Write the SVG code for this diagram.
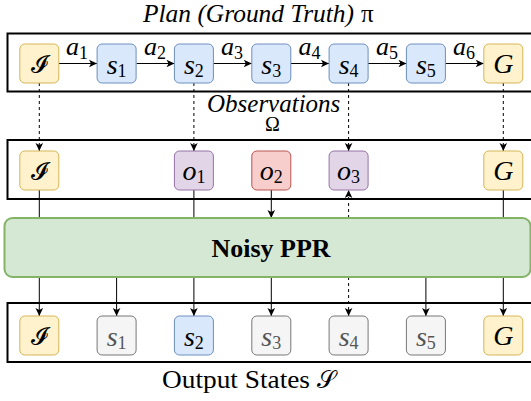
<svg xmlns="http://www.w3.org/2000/svg" width="531" height="401" viewBox="0 0 531 401">
  <defs>
    <marker id="arrow" markerUnits="userSpaceOnUse" markerWidth="10" markerHeight="10" viewBox="0 0 10 10" refX="9" refY="5" orient="auto">
      <path d="M1,1.2 L9,5 L1,8.8 L3,5 Z" fill="#000"/>
    </marker>
  </defs>
  <style>
    .frame { fill: none; stroke: #000; stroke-width: 2; }
    .node { stroke-width: 1; }
    .yellow { fill: #fff2cc; stroke: #d6b656; }
    .blue { fill: #dae8fc; stroke: #6c8ebf; }
    .purple { fill: #e1d5e7; stroke: #9673a6; }
    .red { fill: #f8cecc; stroke: #b85450; }
    .gray { fill: #f5f5f5; stroke: #777; }
    .math { font-family: "Liberation Serif", "DejaVu Serif", serif; font-style: italic; font-size: 28px; fill: #000; }
    .math.dim { fill: #555; }
    .script { font-family: "DejaVu Sans", "Noto Sans", sans-serif; font-style: normal; font-size: 24px; fill: #000; }
    .sub { font-size: 18px; font-style: normal; }
    .lbl { font-family: "Liberation Serif", "DejaVu Serif", serif; font-style: italic; font-size: 26px; fill: #000; }
    .title { font-family: "Liberation Serif", "DejaVu Serif", serif; font-size: 25px; fill: #000; }
    .omega { font-family: "Liberation Serif", "DejaVu Serif", serif; font-size: 20px; fill: #000; }
    .it { font-style: italic; }
    .edge { fill: none; stroke: #000; stroke-width: 1; }
    .dash { stroke-dasharray: 3 3; }
    .ppr { fill: #d5e8d4; stroke: #82b366; stroke-width: 2; }
  </style>

  <!-- row frames -->
  <rect class="frame" x="7.5" y="33.5" width="540" height="58"/>
  <rect class="frame" x="7.5" y="140" width="540" height="59"/>
  <rect class="frame" x="7.5" y="303" width="540" height="59"/>

  <!-- captions -->
  <text class="title it" x="143" y="22" textLength="211" lengthAdjust="spacingAndGlyphs">Plan (Ground Truth)</text>
  <text class="title" x="361" y="22" font-size="24">π</text>
  <text class="title it" x="207" y="112">Observations</text>
  <text class="omega" x="272.5" y="131" text-anchor="middle">Ω</text>
  <text class="title" x="162" y="388" textLength="148" lengthAdjust="spacingAndGlyphs">Output States</text>
  <text class="script" x="317" y="388" font-size="26">𝒮</text>

  <!-- connectors -->
  <g id="connectors">
    <!-- plan transitions -->
    <line class="edge" x1="59" y1="63.5" x2="97" y2="63.5" marker-end="url(#arrow)"/>
    <line class="edge" x1="136.5" y1="63.5" x2="174.5" y2="63.5" marker-end="url(#arrow)"/>
    <line class="edge" x1="213.5" y1="63.5" x2="251.8" y2="63.5" marker-end="url(#arrow)"/>
    <line class="edge" x1="290.8" y1="63.5" x2="329" y2="63.5" marker-end="url(#arrow)"/>
    <line class="edge" x1="368" y1="63.5" x2="406.5" y2="63.5" marker-end="url(#arrow)"/>
    <line class="edge" x1="445.5" y1="63.5" x2="483.8" y2="63.5" marker-end="url(#arrow)"/>
    <text class="lbl" x="77" y="55" text-anchor="middle">a<tspan class="sub" dy="4">1</tspan></text>
    <text class="lbl" x="155" y="55" text-anchor="middle">a<tspan class="sub" dy="4">2</tspan></text>
    <text class="lbl" x="232" y="55" text-anchor="middle">a<tspan class="sub" dy="4">3</tspan></text>
    <text class="lbl" x="309.5" y="55" text-anchor="middle">a<tspan class="sub" dy="4">4</tspan></text>
    <text class="lbl" x="387" y="55" text-anchor="middle">a<tspan class="sub" dy="4">5</tspan></text>
    <text class="lbl" x="464" y="55" text-anchor="middle">a<tspan class="sub" dy="4">6</tspan></text>

    <!-- plan to observations -->
    <line class="edge dash" x1="39.3" y1="83" x2="39.3" y2="151" marker-end="url(#arrow)"/>
    <line class="edge dash" x1="193.9" y1="83" x2="193.9" y2="151" marker-end="url(#arrow)"/>
    <line class="edge dash" x1="348.6" y1="83" x2="348.6" y2="151" marker-end="url(#arrow)"/>
    <line class="edge dash" x1="503.3" y1="83" x2="503.3" y2="151" marker-end="url(#arrow)"/>

    <!-- observations to PPR -->
    <line class="edge" x1="39.3" y1="190" x2="39.3" y2="218"/>
    <line class="edge" x1="193.9" y1="190" x2="193.9" y2="218"/>
    <line class="edge" x1="271.3" y1="190" x2="271.3" y2="218" marker-end="url(#arrow)"/>
    <line class="edge dash" x1="348.6" y1="218" x2="348.6" y2="190" marker-end="url(#arrow)"/>
    <line class="edge" x1="503.3" y1="190" x2="503.3" y2="218"/>

    <!-- PPR to output states -->
    <line class="edge" x1="39.3" y1="277" x2="39.3" y2="316" marker-end="url(#arrow)"/>
    <line class="edge" x1="116.6" y1="277" x2="116.6" y2="316" marker-end="url(#arrow)"/>
    <line class="edge" x1="193.9" y1="277" x2="193.9" y2="316" marker-end="url(#arrow)"/>
    <line class="edge" x1="271.3" y1="277" x2="271.3" y2="316" marker-end="url(#arrow)"/>
    <line class="edge dash" x1="348.6" y1="277" x2="348.6" y2="316" marker-end="url(#arrow)"/>
    <line class="edge" x1="425.9" y1="277" x2="425.9" y2="316" marker-end="url(#arrow)"/>
    <line class="edge" x1="503.3" y1="277" x2="503.3" y2="316" marker-end="url(#arrow)"/>
  </g>

  <!-- plan row -->
  <g id="plan-I"><rect class="node yellow" x="19.8" y="44" width="39" height="39" rx="5"/><text class="script" x="39.3" y="72" text-anchor="middle">𝓘</text></g>
  <g id="plan-s1"><rect class="node blue" x="97.1" y="44" width="39" height="39" rx="5"/><text class="math" x="116.6" y="74" text-anchor="middle">s<tspan class="sub" dy="3">1</tspan></text></g>
  <g id="plan-s2"><rect class="node blue" x="174.4" y="44" width="39" height="39" rx="5"/><text class="math" x="193.9" y="74" text-anchor="middle">s<tspan class="sub" dy="3">2</tspan></text></g>
  <g id="plan-s3"><rect class="node blue" x="251.8" y="44" width="39" height="39" rx="5"/><text class="math" x="271.3" y="74" text-anchor="middle">s<tspan class="sub" dy="3">3</tspan></text></g>
  <g id="plan-s4"><rect class="node blue" x="329.1" y="44" width="39" height="39" rx="5"/><text class="math" x="348.6" y="74" text-anchor="middle">s<tspan class="sub" dy="3">4</tspan></text></g>
  <g id="plan-s5"><rect class="node blue" x="406.4" y="44" width="39" height="39" rx="5"/><text class="math" x="425.9" y="74" text-anchor="middle">s<tspan class="sub" dy="3">5</tspan></text></g>
  <g id="plan-G"><rect class="node yellow" x="483.8" y="44" width="39" height="39" rx="5"/><text class="math" x="503.3" y="73" text-anchor="middle">G</text></g>

  <!-- observation row -->
  <g id="obs-I"><rect class="node yellow" x="19.8" y="151" width="39" height="39" rx="5"/><text class="script" x="39.3" y="179" text-anchor="middle">𝓘</text></g>
  <g id="obs-o1"><rect class="node purple" x="174.4" y="151" width="39" height="39" rx="5"/><text class="math" x="193.9" y="180" text-anchor="middle">o<tspan class="sub" dy="3">1</tspan></text></g>
  <g id="obs-o2"><rect class="node red" x="251.8" y="151" width="39" height="39" rx="5"/><text class="math" x="271.3" y="180" text-anchor="middle">o<tspan class="sub" dy="3">2</tspan></text></g>
  <g id="obs-o3"><rect class="node purple" x="329.1" y="151" width="39" height="39" rx="5"/><text class="math" x="348.6" y="180" text-anchor="middle">o<tspan class="sub" dy="3">3</tspan></text></g>
  <g id="obs-G"><rect class="node yellow" x="483.8" y="151" width="39" height="39" rx="5"/><text class="math" x="503.3" y="180" text-anchor="middle">G</text></g>

  <!-- model -->
  <g id="noisy-ppr">
    <rect class="ppr" x="4.5" y="218" width="526" height="59" rx="8"/>
    <text class="title" x="271" y="257" text-anchor="middle" font-weight="bold" textLength="119" lengthAdjust="spacingAndGlyphs">Noisy PPR</text>
  </g>

  <!-- output row -->
  <g id="out-I"><rect class="node yellow" x="19.8" y="316" width="39" height="39" rx="5"/><text class="script" x="39.3" y="344" text-anchor="middle">𝓘</text></g>
  <g id="out-s1"><rect class="node gray" x="97.1" y="316" width="39" height="39" rx="5"/><text class="math dim" x="116.6" y="346" text-anchor="middle">s<tspan class="sub" dy="3">1</tspan></text></g>
  <g id="out-s2"><rect class="node blue" x="174.4" y="316" width="39" height="39" rx="5"/><text class="math" x="193.9" y="346" text-anchor="middle">s<tspan class="sub" dy="3">2</tspan></text></g>
  <g id="out-s3"><rect class="node gray" x="251.8" y="316" width="39" height="39" rx="5"/><text class="math dim" x="271.3" y="346" text-anchor="middle">s<tspan class="sub" dy="3">3</tspan></text></g>
  <g id="out-s4"><rect class="node gray" x="329.1" y="316" width="39" height="39" rx="5"/><text class="math dim" x="348.6" y="346" text-anchor="middle">s<tspan class="sub" dy="3">4</tspan></text></g>
  <g id="out-s5"><rect class="node gray" x="406.4" y="316" width="39" height="39" rx="5"/><text class="math dim" x="425.9" y="346" text-anchor="middle">s<tspan class="sub" dy="3">5</tspan></text></g>
  <g id="out-G"><rect class="node yellow" x="483.8" y="316" width="39" height="39" rx="5"/><text class="math" x="503.3" y="345" text-anchor="middle">G</text></g>
</svg>
